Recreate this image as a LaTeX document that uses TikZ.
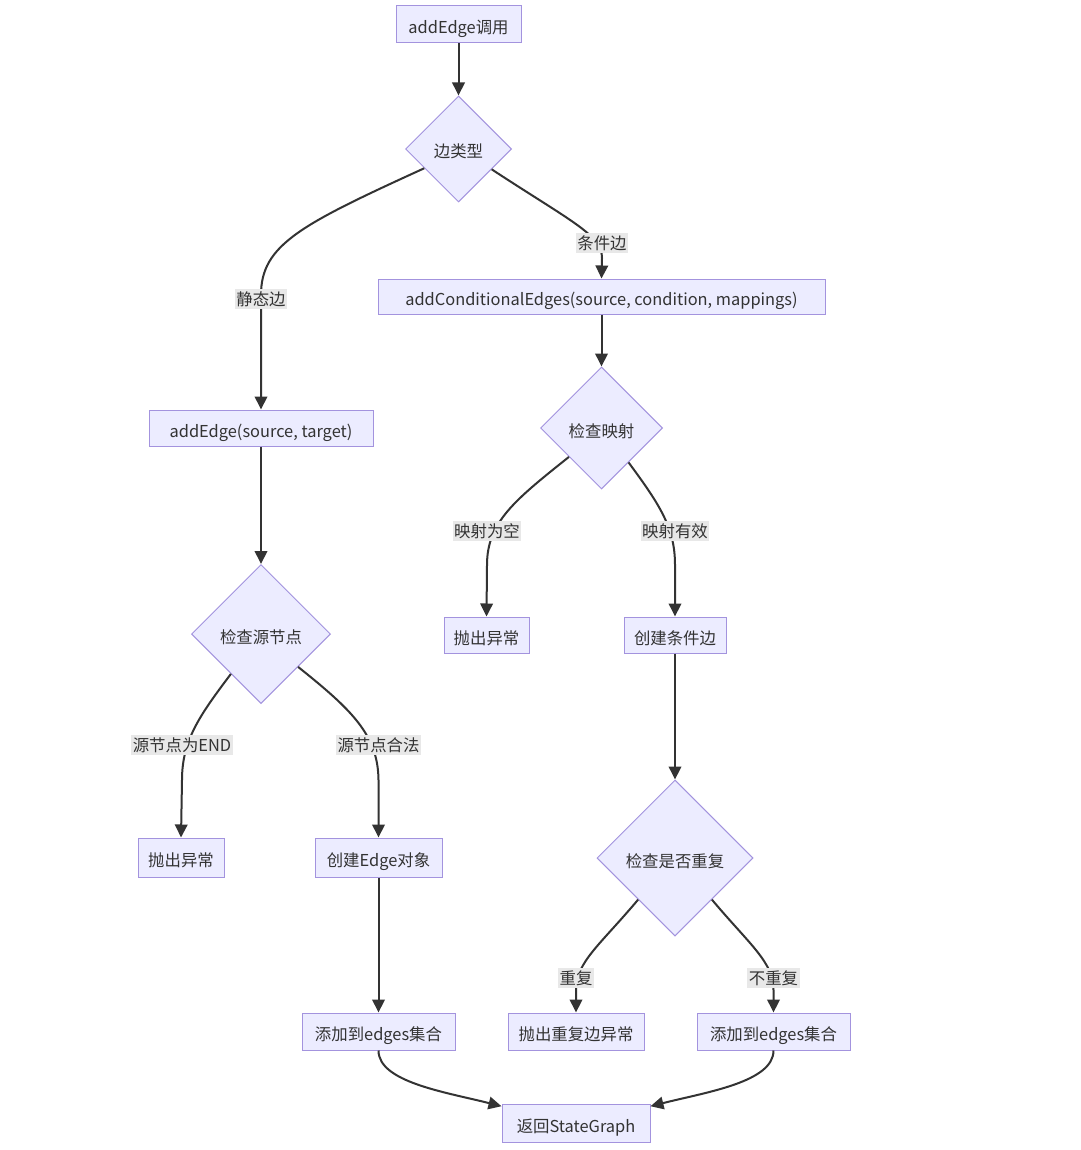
\documentclass[tikz,border=0pt]{standalone}
\usepackage{fontspec}
\setmainfont{Noto Sans CJK SC}
\usetikzlibrary{shapes.geometric,arrows.meta,calc}
\definecolor{mfill}{HTML}{ECECFF}
\definecolor{mborder}{HTML}{A393DE}
\definecolor{medge}{HTML}{333333}
\definecolor{mtext}{HTML}{333333}
\definecolor{lblbg}{HTML}{E8E8E8}
\begin{document}
\begin{tikzpicture}[x=1pt,y=-1pt,
  base/.style={draw=mborder, fill=mfill, line width=1pt, inner sep=0pt, text=mtext,
    font=\fontsize{16.4}{19}\selectfont, text height=18pt, text depth=0pt},
  box/.style={base, rectangle, minimum height=37},
  dia/.style={base, diamond, aspect=1},
  lbl/.style={fill=lblbg, inner xsep=1.5pt, inner ysep=2pt, text=mtext, font=\fontsize{16.4}{19}\selectfont},
  arr/.style={draw=medge, line width=2pt, -{Triangle[length=13pt,width=12.5pt]}}]
\fill[white] (0,0) rectangle (1080,1150);

% nodes
\node[box, minimum width=125] (A) at (458.5,24.5) {addEdge调用};
\node[dia, minimum width=106, minimum height=106] (B) at (458.5,149) {边类型};
\node[box, minimum width=447, minimum height=35] (C) at (601.5,296.5) {addConditionalEdges(source, condition, mappings)};
\node[box, minimum width=224, minimum height=36] (D) at (261,428) {addEdge(source, target)};
\node[dia, minimum width=122, minimum height=122] (E) at (601.5,428) {检查映射};
\node[box, minimum width=85, minimum height=36] (F) at (486.5,635) {抛出异常};
\node[box, minimum width=102, minimum height=36] (G) at (675,635) {创建条件边};
\node[dia, minimum width=139, minimum height=139] (H) at (261,634) {检查源节点};
\node[box, minimum width=86, minimum height=39] (I) at (181,857.5) {抛出异常};
\node[box, minimum width=127, minimum height=39] (J) at (378.5,857.5) {创建Edge对象};
\node[dia, minimum width=156, minimum height=156] (K) at (675,858) {检查是否重复};
\node[box, minimum width=153, minimum height=37] (L) at (378.5,1031.5) {添加到edges集合};
\node[box, minimum width=136, minimum height=37] (M) at (576,1031.5) {抛出重复边异常};
\node[box, minimum width=153, minimum height=37] (N) at (773.5,1031.5) {添加到edges集合};
\node[box, minimum width=148, minimum height=38] (O) at (576,1123) {返回StateGraph};

% straight connectors
\draw[arr] (A.south) -- (B.north);
\draw[arr] (C.south) -- (E.north);
\draw[arr] (D.south) -- (H.north);
\draw[arr] (G.south) -- (K.north);
\draw[arr] (J.south) -- (L.north);

% curved connectors
\draw[arr] ($(B.west)!0.36!(B.south)$) .. controls (300,225) and (261,245) .. (261,295) -- (D.north);
\draw[arr] ($(B.east)!0.38!(B.south)$) .. controls (572,222) and (602,235) .. (602,258) -- (C.north);
\draw[arr] ($(E.west)!0.47!(E.south)$) .. controls (515,500) and (487,522) .. (487,565) -- (F.north);
\draw[arr] ($(E.east)!0.56!(E.south)$) .. controls (660,505) and (675,528) .. (675,565) -- (G.north);
\draw[arr] ($(H.west)!0.57!(H.south)$) .. controls (200,715) and (182,740) .. (182,780) -- (I.north);
\draw[arr] ($(H.east)!0.47!(H.south)$) .. controls (352,710) and (378,735) .. (378.5,780) -- (J.north);
\draw[arr] ($(K.west)!0.53!(K.south)$) .. controls (600,945) and (576,962) .. (576,990) -- (M.north);
\draw[arr] ($(K.east)!0.53!(K.south)$) .. controls (750,945) and (773.5,962) .. (773.5,990) -- (N.north);
\draw[arr] (L.south) .. controls (378.5,1082) and (445,1092) .. ($(O.north west)!0.07!(O.south west)$);
\draw[arr] (N.south) .. controls (773.5,1082) and (707,1092) .. ($(O.north east)!0.07!(O.south east)$);

% edge labels
\node[lbl] (l1) at (261,299) {静态边};
\node[lbl] (l2) at (602,243) {条件边};
\node[lbl] (l3) at (487,531) {映射为空};
\node[lbl] (l4) at (675,531) {映射有效};
\node[lbl] (l5) at (182,745) {源节点为END};
\node[lbl] (l6) at (378.5,745) {源节点合法};
\node[lbl] (l7) at (576,978) {重复};
\node[lbl] (l8) at (773.5,978) {不重复};
\end{tikzpicture}
\end{document}
